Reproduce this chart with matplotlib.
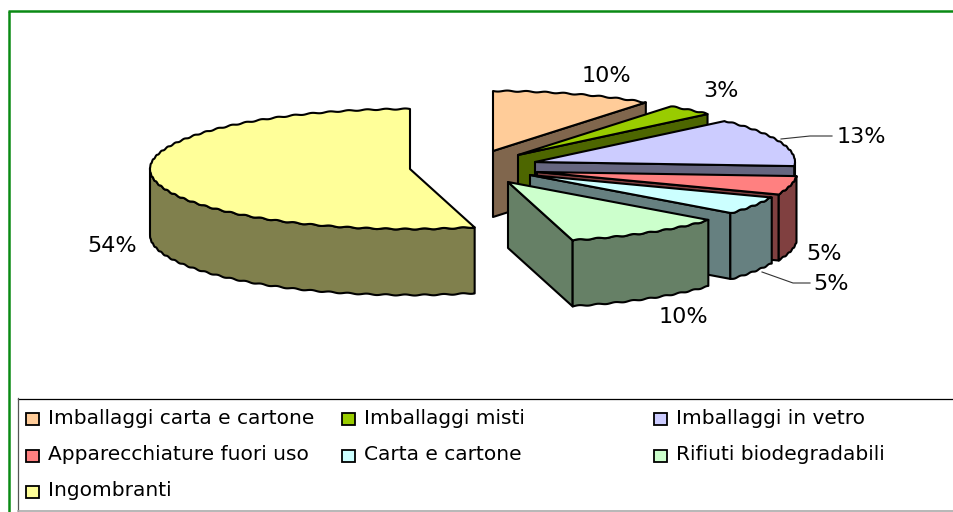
import numpy as np
import matplotlib
matplotlib.use("Agg")
import matplotlib.pyplot as plt
from matplotlib.patches import Polygon, Rectangle
from matplotlib.colors import to_rgb

categories = ["Imballaggi carta e cartone", "Imballaggi misti", "Imballaggi in vetro",
              "Apparecchiature fuori uso", "Carta e cartone", "Rifiuti biodegradabili",
              "Ingombranti"]
values = [10, 3, 13, 5, 5, 10, 54]
colors = ["#FFCC99", "#99CC00", "#CCCCFF", "#FF8080", "#CCFFFF", "#CCFFCC", "#FFFF99"]

# layout: pixel position of each exploded slice's apex
apex_x = [493, 518, 535, 537, 530, 508, 410]
apex_y = [151, 155, 162, 172, 175, 182, 169]
RX, RY, DEPTH = 260, 60, 66
label_xy = [(606, 76), (721, 91), (861, 137), (824, 254), (831, 284), (683, 317), (112, 246)]

fig = plt.figure(figsize=(9.54, 5.12), dpi=100, facecolor="white")
ax = fig.add_axes([0, 0, 1, 1])
ax.set_xlim(0, 954)
ax.set_ylim(512, 0)
ax.axis("off")
plt.rcParams["font.family"] = "DejaVu Sans"
LW = 1.5


def rim(cx, cy, a0, a1, dy=0):
    """Elliptical rim between two clockwise-from-top angles, slightly scalloped."""
    t = np.radians(np.linspace(a0, a1, max(int((a1 - a0) * 4), 3)))
    wob = 0.55 * np.sin(t * 85)
    x = cx + RX * np.sin(t)
    y = cy - RY * np.cos(t) + wob + dy
    x = np.maximum(x, 150)
    return np.column_stack([x, y])


def poly(pts, fc, z):
    ax.add_patch(Polygon(pts, closed=True, fc=fc, ec="black", lw=LW, joinstyle="round", zorder=z))


start = 0.0
for i, v in enumerate(values):
    end = start + v * 3.6
    cx, cy = apex_x[i], apex_y[i]
    side = tuple(c * 0.5 for c in to_rgb(colors[i]))
    z = 2 + i * 3
    # radial end face (visible only when facing the viewer)
    if end < 180:
        tip = rim(cx, cy, end, end + 0.01)[0]
        poly([(cx, cy), tip, (tip[0], tip[1] + DEPTH), (cx, cy + DEPTH)], side, z)
    # outer wall on the front half
    w0, w1 = max(start, 90), min(end, 270)
    if w1 > w0:
        upper = rim(cx, cy, w0, w1)
        lower = rim(cx, cy, w0, w1, DEPTH)
        poly(np.vstack([upper, lower[::-1]]), side, z + 1)
    # top face
    poly(np.vstack([[(cx, cy)], rim(cx, cy, start, end)]), colors[i], z + 2)
    start = end

# data labels
for v, (x, y) in zip(values, label_xy):
    ax.text(x, y, f"{v}%", ha="center", va="center", fontsize=16, color="black", zorder=40)

# leader lines
ax.plot([781, 810, 832], [139, 136, 136], color="#333333", lw=0.8, zorder=39)
ax.plot([762, 793, 810], [272, 283, 283], color="#333333", lw=0.8, zorder=39)

# green frame (left and top only; the picture is cut off on the other sides)
ax.plot([9.5, 9.5], [512, 11], color="#0A8A14", lw=1.8, solid_capstyle="butt", zorder=50)
ax.plot([8.5, 954], [11, 11], color="#0A8A14", lw=1.8, solid_capstyle="butt", zorder=50)

# legend frame
ax.plot([18, 954], [398.5, 398.5], color="black", lw=0.9, zorder=50)
ax.plot([18, 18], [398, 511], color="#555555", lw=0.9, zorder=50)
ax.plot([18, 954], [511, 511], color="#AAAAAA", lw=1.2, zorder=50)

leg_x = [33, 349, 661]
leg_y = [418, 455, 491]
for i, (name, col) in enumerate(zip(categories, colors)):
    r, c = i // 3, i % 3
    x, y = leg_x[c], leg_y[r]
    ax.add_patch(Rectangle((x - 6.5, y - 5.5), 13, 12, fc=col, ec="black", lw=1.3, zorder=51))
    ax.text(x + 15, y, name, ha="left", va="center", fontsize=14.5, color="black", zorder=51)

fig.savefig("out.png", dpi=100, facecolor="white")
